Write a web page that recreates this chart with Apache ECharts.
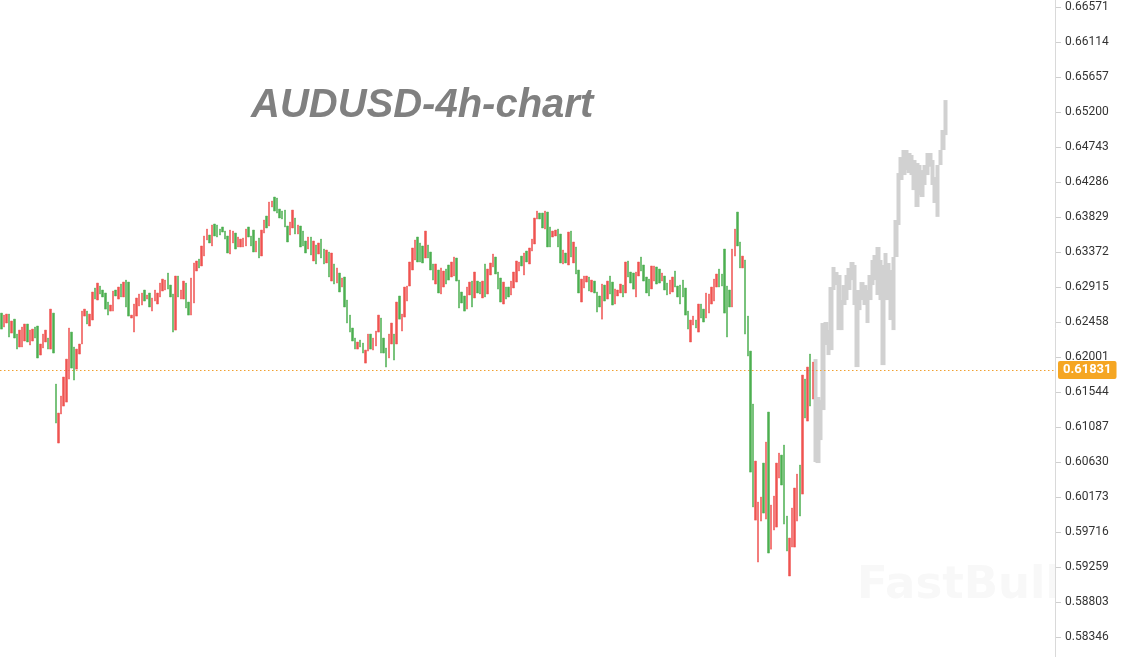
<!DOCTYPE html>
<html><head><meta charset="utf-8">
<script src="https://cdn.jsdelivr.net/npm/echarts/dist/echarts.min.js"></script>
<style>html,body{margin:0;padding:0;background:#fff}#c{width:1124px;height:657px}</style>
</head><body><div id="c"></div>
<script>
// Historical 4h candles (open / close)
const histOpen = [
.62575,.62393,.62445,.62562,.62314,.62496,.62301,.62132,.62132,.6221,
.62432,.62158,.6221,.62393,.62406,.62027,.62119,.62197,.62249,.62105,
.62575,.61648,.60878,.61257,.61361,.61413,.61713,.62327,.62132,.61843,
.6204,.62171,.62536,.62601,.62406,.62484,.62902,.62745,.62928,.62876,
.62837,.62719,.62601,.62601,.62876,.62758,.62954,.62785,.63006,.6298,
.6251,.62327,.62536,.62667,.6268,.62876,.62758,.62837,.62601,.62732,
.62693,.62785,.62863,.62876,.63098,.62941,.62824,.62353,.63059,.62758,
.62758,.62967,.62719,.62549,.62706,.63124,.6328,.6319,.6332,.63529,
.63594,.63451,.63738,.63725,.63672,.63699,.63646,.63581,.63346,.6349,
.6362,.63438,.63438,.63438,.63451,.63699,.63581,.63659,.63372,.63555,
.6332,.6362,.63842,.63712,.6396,.6409,.64077,.63933,.63907,.6392,
.63712,.63594,.63686,.63816,.63607,.63712,.63646,.63516,.63411,.63568,
.63255,.63464,.63346,.63541,.63411,.63229,.63372,.62993,.63216,.62967,
.63098,.62915,.63046,.62745,.62549,.6238,.62249,.62105,.62223,.62184,
.61922,.62079,.62301,.62092,.62145,.62327,.6251,.62249,.62119,.61988,
.62171,.62301,.62171,.62798,.6234,.62523,.62732,.62928,.63137,.63268,
.63568,.6349,.63451,.63294,.63464,.63372,.63216,.62954,.63137,.62824,
.62915,.6315,.63203,.63046,.63059,.63294,.63006,.6285,.62798,.62627,
.62811,.62993,.62772,.62993,.6298,.62772,.63216,.62824,.63072,.63177,
.63307,.63111,.63033,.62693,.62915,.62915,.62811,.62902,.6298,.63124,
.63319,.63072,.63385,.63216,.63385,.63477,.63803,.63881,.63881,.63672,
.63894,.63699,.63568,.63581,.63672,.63607,.63216,.63359,.63203,.63646,
.63229,.63438,.63137,.62719,.62902,.6298,.63046,.6285,.62993,.6285,
.62798,.62496,.62941,.62758,.63059,.6298,.62693,.62798,.62837,.62941,
.62837,.63255,.63111,.63098,.62785,.63059,.63307,.63203,.63046,.63019,
.6289,.62993,.63177,.6315,.62993,.63059,.62967,.62824,.6285,.63124,
.62928,.62941,.63006,.62902,.62601,.62197,.62419,.62484,.62327,.62693,
.62627,.6251,.62575,.62693,.62732,.62915,.6315,.63085,.63411,.62928,
.62876,.62654,.63319,.63894,.63503,.63164,.63268,.62536,.62079,.61387,
.59872,.59324,.59859,.60617,.59885,.61283,.59493,.59742,.59781,.60421,
.60721,.60852,.59925,.59142,.5952,.5952,.59859,.60591,.60212,.61713,
.61165,.6204,.61452
];
const histClose = [
.62366,.62549,.62562,.62262,.62471,.62249,.62105,.62353,.62393,.62432,
.62197,.62353,.62366,.62249,.61988,.62171,.62301,.62353,.62105,.62627,
.62053,.61139,.6127,.61492,.6174,.61974,.6238,.61857,.617,.62105,
.62171,.62601,.62627,.62432,.62562,.6285,.62758,.62967,.62824,.62785,
.62627,.62549,.6268,.62863,.62798,.62915,.62785,.6298,.62654,.62536,
.62549,.62693,.62772,.62824,.62837,.62732,.62811,.62654,.62772,.62876,
.62837,.62967,.63019,.63006,.62888,.62785,.62327,.63059,.62785,.62876,
.62993,.62641,.62549,.63033,.63229,.63255,.63164,.63451,.63581,.63672,
.6349,.63725,.63581,.63568,.63594,.63633,.63541,.63359,.63659,.63646,
.63411,.63568,.63541,.63555,.63672,.63568,.63451,.63372,.63516,.63294,
.63659,.6379,.63686,.64025,.64038,.63907,.63881,.63816,.63803,.63699,
.63503,.63764,.6392,.63607,.63725,.63438,.63451,.63359,.63568,.63333,
.63516,.63216,.6349,.63294,.63216,.63398,.63046,.63359,.62954,.63164,
.6285,.63033,.62654,.62445,.62327,.6221,.62105,.62197,.62132,.62053,
.62092,.62301,.62105,.62249,.6234,.62549,.62053,.62053,.6187,.62301,
.62445,.61961,.62719,.62496,.62562,.62915,.62928,.63242,.63425,.63529,
.63242,.63242,.63229,.63646,.63294,.63137,.63006,.63216,.62837,.63164,
.63124,.62954,.63006,.63242,.63307,.62993,.62641,.62706,.62601,.62915,
.6298,.62654,.63111,.62837,.62824,.62993,.62785,.6315,.63229,.63346,
.63085,.62888,.62719,.6298,.62758,.62785,.62993,.63111,.63255,.63242,
.6319,.63359,.63242,.63425,.63541,.63816,.63907,.63803,.63686,.63907,
.63438,.63438,.63646,.63659,.63438,.63229,.63398,.63229,.63633,.63307,
.63503,.63085,.62837,.63019,.63059,.63059,.62863,.63006,.62837,.62588,
.62654,.62954,.62732,.62993,.62824,.6268,.6289,.62876,.62954,.62785,
.63242,.63046,.62967,.62888,.63111,.63242,.63124,.62993,.62837,.62798,
.6319,.6319,.62954,.62967,.63098,.62876,.62811,.63006,.63046,.62915,
.62785,.62693,.62785,.62549,.62366,.62484,.62536,.6238,.62693,.6251,
.62458,.62837,.62824,.62915,.63019,.63085,.62915,.62928,.62575,.62262,
.62654,.63411,.63672,.63451,.63164,.63319,.62301,.62014,.60499,.60043,
.60643,.60108,.60173,.59964,.60891,.59442,.60069,.60186,.60617,.60747,
.6033,.5982,.59468,.59638,.6003,.60291,.60473,.59925,.61766,.61205,
.6187,.61361,.61935
];
// Grey projected path (top / bottom of each block)
const fcHigh = [
.61974,.61479,.61439,.62445,.62458,.62353,.62915,.63177,.63111,.63072,
.62745,.62941,.63072,.63164,.63242,.63203,.62876,.62876,.6298,.62941,
.62876,.63072,.63268,.63333,.63438,.63268,.63203,.63359,.63229,.63137,
.63307,.6379,.64403,.64612,.64704,.64704,.64665,.64639,.64573,.64534,
.64508,.64442,.64508,.64665,.64665,.64573,.64351,.64508,.64704,.64965,
.65356
];
const fcLow = [
.6063,.60617,.60917,.61309,.62158,.62027,.62092,.62876,.62941,.62353,
.62353,.6268,.62745,.62876,.63006,.6268,.6187,.62614,.62745,.6268,
.62445,.62745,.62941,.63006,.62811,.62745,.61896,.62745,.62745,.62484,
.62353,.63307,.63725,.64312,.64377,.64442,.64403,.64377,.64181,.6396,
.64116,.6409,.64247,.64377,.64486,.64247,.64012,.63831,.64508,.64704,
.64899
];
const yTickLabels = ['0.58346','0.58803','0.59259','0.59716','0.60173','0.60630','0.61087','0.61544','0.62001','0.62458','0.62915','0.63372','0.63829','0.64286','0.64743','0.65200','0.65657','0.66114','0.66571'];
const currentPrice = 0.61831;
const titleText = 'AUDUSD-4h-chart';
const watermarkText = 'FastBull';
const totalSlots = 406;

const yMin = parseFloat(yTickLabels[0]);
const yMax = parseFloat(yTickLabels[yTickLabels.length - 1]);
const yStep = (yMax - yMin) / (yTickLabels.length - 1);

const cats = [];
for (let i = 0; i < totalSlots; i++) cats.push(i);
const histData = histOpen.map((o, i) => {
  const c = histClose[i];
  return [o, c, Math.min(o, c), Math.max(o, c)];
});
const fcData = [];
for (let i = 0; i < histOpen.length; i++) fcData.push(['-', '-', '-', '-']);
fcLow.forEach((l, i) => fcData.push([l, fcHigh[i], l, fcHigh[i]]));

const chart = echarts.init(document.getElementById('c'), null, {renderer: 'canvas'});
chart.setOption({
  animation: false,
  backgroundColor: '#ffffff',
  grid: {left: 0, right: 68, top: 7, bottom: 20},
  xAxis: {type: 'category', data: cats, show: false, boundaryGap: true},
  yAxis: {
    type: 'value', position: 'right', min: yMin, max: yMax, interval: yStep, z: 10,
    axisLine: {show: false},
    axisTick: {show: true, length: 5, lineStyle: {color: '#cfcfcf'}},
    splitLine: {show: false},
    axisLabel: {
      margin: 9, color: '#333333', fontSize: 12, fontFamily: 'Roboto',
      formatter: v => yTickLabels[Math.round((v - yMin) / yStep)]
    }
  },
  graphic: [
    {type: 'text', silent: true, z: 0,
     style: {x: 857, y: 586, text: watermarkText, verticalAlign: 'middle',
             font: 'bold 45px "DejaVu Sans", sans-serif', fill: '#f8f8f8',
             shadowColor: 'rgba(0,0,0,0.07)', shadowBlur: 6, shadowOffsetY: 3}},
    {type: 'rect', silent: true, z: 3,
     shape: {x: 1056, y: 0, width: 68, height: 657},
     style: {fill: '#ffffff'}},
    {type: 'line', silent: true, z: 4,
     shape: {x1: 1055.5, y1: 0, x2: 1055.5, y2: 657},
     style: {stroke: '#d9d9d9', lineWidth: 1}},
    {type: 'text', silent: true, z: 10,
     style: {x: 251, y: 106, text: titleText, verticalAlign: 'middle',
             font: 'italic bold 40px "Liberation Sans", Arial, sans-serif', fill: '#808080'}}
  ],
  series: [
    {
      type: 'candlestick', data: histData, barWidth: 2, z: 5,
      itemStyle: {color: '#EF5350', color0: '#4CAF50', borderColor: '#EF5350', borderColor0: '#4CAF50', borderWidth: 0.5},
      markLine: {
        silent: true, symbol: ['none', 'none'], animation: false, precision: 5,
        lineStyle: {color: '#F0A030', type: [1.5, 2.5], width: 1},
        label: {position: 'end', distance: 2, formatter: currentPrice.toFixed(5),
                backgroundColor: '#F5A623', color: '#ffffff', fontWeight: 'bold',
                fontSize: 13, fontFamily: 'Roboto', padding: [3, 5, 2, 5], borderRadius: 2},
        data: [{yAxis: currentPrice}]
      }
    },
    {
      type: 'candlestick', data: fcData, barWidth: 5, z: 4,
      itemStyle: {color: '#D1D1D1', color0: '#D1D1D1', borderColor: '#D1D1D1', borderColor0: '#D1D1D1', borderWidth: 0}
    }
  ]
});
</script>
</body></html>
